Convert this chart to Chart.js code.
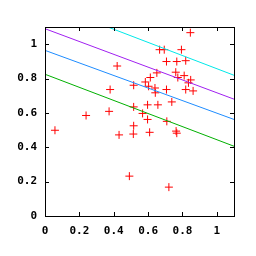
<!DOCTYPE html>
<html>
<head>
<meta charset="utf-8">
<script src="https://cdn.jsdelivr.net/npm/chart.js@4"></script>
<style>
  html, body { margin: 0; padding: 0; background: #fff; }
  #wrap { width: 256px; height: 256px; }
</style>
</head>
<body>
<div id="wrap"><canvas id="chart" width="256" height="256"></canvas></div>
<script>
// scatter points
const pointX = [0.058, 0.239, 0.373, 0.379, 0.42, 0.431, 0.491, 0.514, 0.516, 0.516, 0.516, 0.568, 0.584, 0.597,
  0.597, 0.603, 0.609, 0.613, 0.64, 0.642, 0.651, 0.657, 0.667, 0.694, 0.707, 0.707, 0.709, 0.721, 0.738, 0.761,
  0.763, 0.767, 0.767, 0.773, 0.794, 0.81, 0.819, 0.819, 0.835, 0.846, 0.848, 0.862];
const pointY = [0.499, 0.585, 0.609, 0.736, 0.873, 0.472, 0.232, 0.477, 0.761, 0.635, 0.525, 0.597, 0.78, 0.647,
  0.562, 0.755, 0.487, 0.806, 0.745, 0.717, 0.833, 0.647, 0.968, 0.968, 0.899, 0.736, 0.551, 0.168, 0.664, 0.837,
  0.494, 0.899, 0.482, 0.806, 0.968, 0.817, 0.904, 0.736, 0.775, 1.067, 0.792, 0.728];

// the four straight lines, given at both ends of the x range
const lineX = [0, 1.1];
const greenY = [0.825, 0.406];
const blueY = [0.964, 0.562];
const purpleY = [1.09, 0.68];
const cyanY = [1.24, 0.819];

const tickValues = [0, 0.2, 0.4, 0.6, 0.8, 1];

function toPoints(xs, ys) {
    return xs.map(function (x, i) { return { x: x, y: ys[i] }; });
}

function lineSet(ys, color) {
    return {
        type: 'line',
        data: toPoints(lineX, ys),
        borderColor: color,
        borderWidth: 1,
        pointRadius: 0,
        fill: false
    };
}

// frame + inward tick marks on all four sides
const frame = {
    id: 'frame',
    afterDraw: function (chart) {
        const c = chart.ctx, a = chart.chartArea;
        const xs = chart.scales.x, ys = chart.scales.y;
        c.save();
        c.strokeStyle = '#000';
        c.lineWidth = 1;
        c.beginPath();
        tickValues.forEach(function (v) {
            const px = Math.round(xs.getPixelForValue(v)) + 0.5;
            c.moveTo(px, a.bottom); c.lineTo(px, a.bottom - 4);
            c.moveTo(px, a.top); c.lineTo(px, a.top + 4);
            const py = Math.round(ys.getPixelForValue(v)) + 0.5;
            c.moveTo(a.left, py); c.lineTo(a.left + 4, py);
            c.moveTo(a.right, py); c.lineTo(a.right - 4, py);
        });
        c.stroke();
        c.strokeRect(Math.round(a.left) + 0.5, Math.round(a.top) + 0.5,
            Math.round(a.right - a.left), Math.round(a.bottom - a.top));
        c.restore();
    }
};

const tickFont = { family: 'DejaVu Sans Mono', size: 11, weight: 'bold' };

new Chart(document.getElementById('chart'), {
    type: 'scatter',
    data: {
        datasets: [
            lineSet(greenY, '#00b000'),
            lineSet(blueY, '#1e8cff'),
            lineSet(purpleY, '#a020f0'),
            lineSet(cyanY, '#00e8e8'),
            {
                data: toPoints(pointX, pointY),
                pointStyle: 'cross',
                pointRadius: 4,
                borderColor: '#ff0000',
                borderWidth: 1
            }
        ]
    },
    options: {
        responsive: false,
        animation: false,
        layout: { padding: { top: 27, right: 22, left: 0, bottom: 0 } },
        plugins: { legend: { display: false }, tooltip: { enabled: false } },
        scales: {
            x: {
                type: 'linear', min: 0, max: 1.1,
                border: { display: false },
                grid: { display: false, drawTicks: false },
                afterFit: function (s) { s.height = 40; },
                ticks: {
                    stepSize: 0.2, includeBounds: false, padding: 9,
                    color: '#000', font: tickFont, maxRotation: 0,
                    callback: function (v) { return String(+v.toFixed(1)); }
                }
            },
            y: {
                type: 'linear', min: 0, max: 1.1,
                border: { display: false },
                grid: { display: false, drawTicks: false },
                afterFit: function (s) { s.width = 45; },
                ticks: {
                    stepSize: 0.2, includeBounds: false, padding: 8,
                    color: '#000', font: tickFont,
                    callback: function (v) { return String(+v.toFixed(1)); }
                }
            }
        }
    },
    plugins: [frame]
});
</script>
</body>
</html>
